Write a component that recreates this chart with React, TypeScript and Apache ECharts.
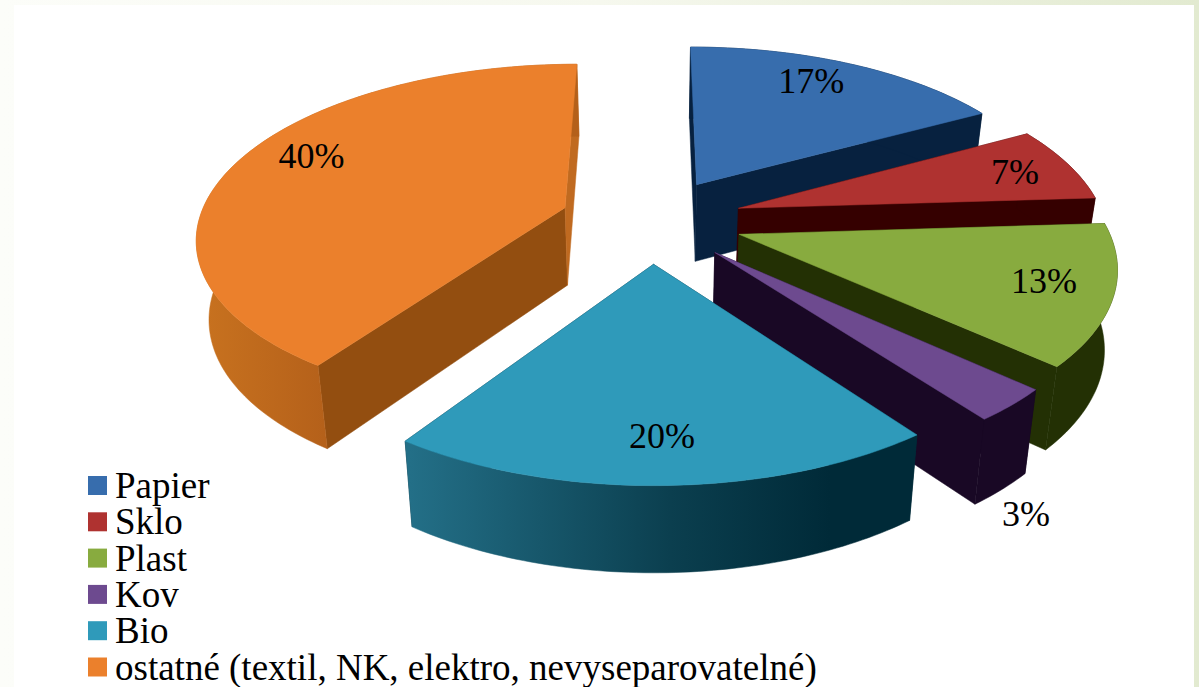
import React, { useEffect, useRef } from "react";
import * as echarts from "echarts";

const categories = ["Papier", "Sklo", "Plast", "Kov", "Bio", "ostatné (textil, NK, elektro, nevyseparovatelné)"];
const shares = [17, 7, 12.8, 3, 19.71, 40.49];
const topColors = ["#376DAD", "#AF3230", "#88AB3F", "#6D4A8F", "#2F9ABA", "#EB802C"];
const wallColors = ["#07213F", "#350000", "#233004", "#190825", "#002A38", "#934E10"];
const labelShift = [[-4, -10], [27, -3], [28, 1], [96, 151], [1, 14], [-6, -16]];

const W = 1199, H = 687;
const CX = 651.5, CY = 220, RX = 366, RY = 170, PERSP = 0.16, EXPLODE = 0.25, DEPTH = 78, SHRINK = 0.972, PHASE = 0;
const FONT = '"Liberation Serif", "Times New Roman", serif';
const RAD = Math.PI / 180;

const total = shares.reduce((a, b) => a + b, 0);
const starts = shares.map((_, i) => shares.slice(0, i).reduce((a, b) => a + b, 0));

function top(u: number, v: number) {
  const d = 1 + PERSP * v;
  return [CX + (RX * u) / d, CY - (RY * v) / d, d];
}
function bottom(u: number, v: number) {
  const [x, y, d] = top(u, v);
  return [CX + (x - CX) * SHRINK, y + DEPTH / Math.sqrt(d)];
}

function makeSlice(i: number) {
  return (_params: any, api: any) => {
    const share = api.value(0);
    const start = api.value(1);
    const a0 = (start / total) * 360 + PHASE;
    const a1 = ((start + share) / total) * 360 + PHASE;
    const mid = ((a0 + a1) / 2) * RAD;
    const ou = EXPLODE * Math.sin(mid);
    const ov = EXPLODE * Math.cos(mid);
    const rim: [number, number][] = [];
    const n = Math.max(8, Math.ceil(a1 - a0));
    for (let k = 0; k <= n; k++) {
      const a = (a0 + ((a1 - a0) * k) / n) * RAD;
      rim.push([ou + Math.sin(a), ov + Math.cos(a)]);
    }
    const apexT = top(ou, ov).slice(0, 2);
    const apexB = bottom(ou, ov);
    const rimT = rim.map(([u, v]) => top(u, v).slice(0, 2));
    const rimB = rim.map(([u, v]) => bottom(u, v));
    const wallFill = wallColors[i];
    let outerFill: any = wallFill;
    if (i === 4) {
      outerFill = new echarts.graphic.LinearGradient(410, 0, 830, 0, [
        { offset: 0, color: "#236F87" },
        { offset: 0.62, color: "#0B3F4F" },
        { offset: 1, color: "#002A38" },
      ], true);
    } else if (i === 5) {
      outerFill = new echarts.graphic.LinearGradient(200, 0, 330, 0, [
        { offset: 0, color: "#C8721F" },
        { offset: 1, color: "#B4601A" },
      ], true);
    }
    const last = rim.length - 1;
    const poly = (points: number[][], fill: any) => ({
      type: "polygon",
      shape: { points },
      style: { fill, stroke: fill, lineWidth: 0.5 },
    });
    const [lx, ly] = top(Math.sin(mid), Math.cos(mid));
    return {
      type: "group",
      children: [
        poly([apexT, rimT[0], rimB[0], apexB], wallFill),
        poly([apexT, rimT[last], rimB[last], apexB], i === 5 ? "#C06A20" : wallFill),
        poly([...rimT, ...rimB.slice().reverse()], outerFill),
        poly([apexT, ...rimT], topColors[i]),
        {
          type: "text",
          z2: 10,
          style: {
            text: `${Math.round(share)}%`,
            x: lx + labelShift[i][0],
            y: ly + labelShift[i][1],
            fill: "#000",
            font: `36px ${FONT}`,
            align: "center",
            verticalAlign: "middle",
          },
        },
      ],
    };
  };
}

export default function App() {
  const ref = useRef<HTMLDivElement>(null);
  useEffect(() => {
    const chart = echarts.init(ref.current!, null, { renderer: "svg" });
    chart.setOption({
      animation: false,
      backgroundColor: "transparent",
      legend: {
        orient: "vertical",
        left: 88,
        top: 467,
        height: 260,
        padding: 0,
        icon: "rect",
        itemWidth: 19,
        itemHeight: 19,
        itemGap: -0.7,
        data: categories,
        selectedMode: false,
        textStyle: { fontFamily: FONT, fontSize: 37, color: "#000", padding: [0, 0, 0, 3] },
      },
      graphic: [
        { type: "rect", z: -1, shape: { x: 14, y: 5, width: 1180, height: 682 }, style: { fill: "#fff" } },
      ],
      series: categories.map((name, i) => ({
        type: "custom",
        name,
        coordinateSystem: "none",
        silent: true,
        itemStyle: { color: topColors[i] },
        renderItem: makeSlice(i),
        data: [[shares[i], starts[i]]],
      })),
    });
    return () => chart.dispose();
  }, []);
  return (
    <div
      ref={ref}
      style={{
        position: "fixed",
        left: 0,
        top: 0,
        width: W,
        height: H,
        background: "linear-gradient(90deg,#FCFDF9 0%,#F6F8EE 50%,#E2EAD0 100%)",
      }}
    />
  );
}
